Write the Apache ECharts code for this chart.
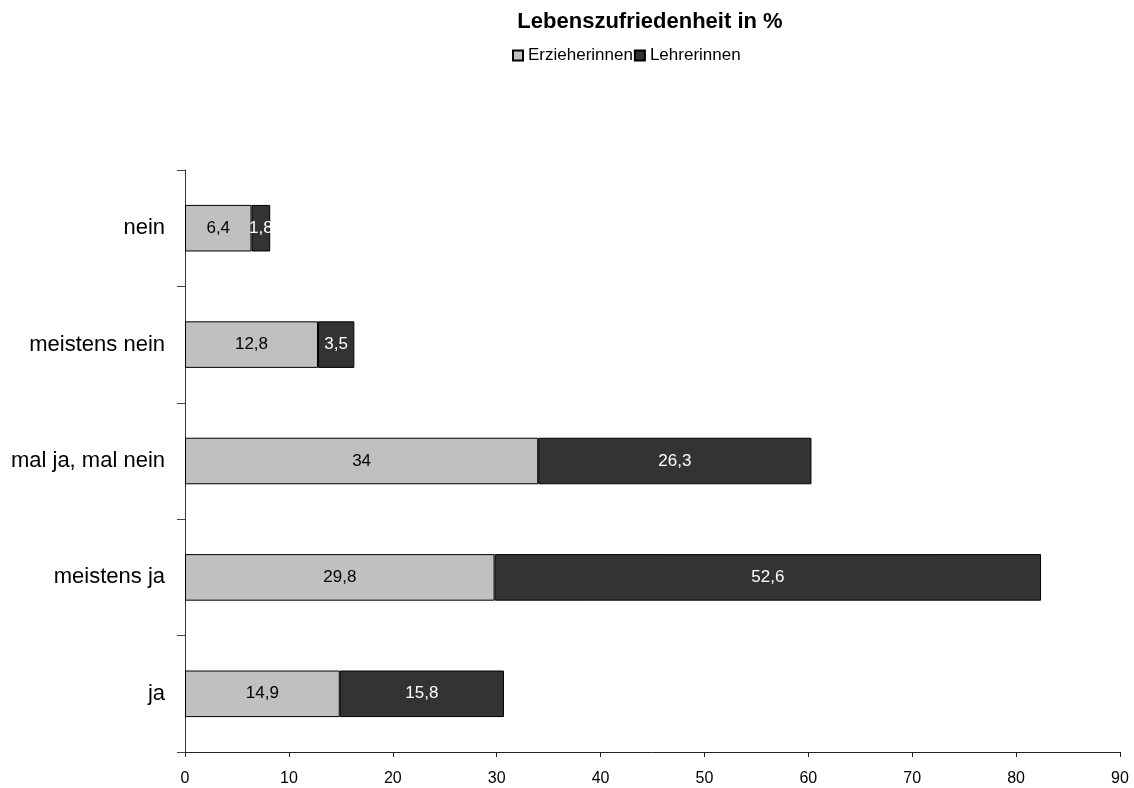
<!DOCTYPE html>
<html><head><meta charset="utf-8">
<script src="https://cdn.jsdelivr.net/npm/echarts@6/dist/echarts.min.js"></script>
<style>html,body{margin:0;padding:0;background:#fff}#c{width:1134px;height:788px}</style>
</head><body><div id="c"></div>
<script>
const categories = ['ja', 'meistens ja', 'mal ja, mal nein', 'meistens nein', 'nein'];
const erzieherinnen = [14.9, 29.8, 34, 12.8, 6.4];
const lehrerinnen = [15.8, 52.6, 26.3, 3.5, 1.8];
const xTicks = [0, 10, 20, 30, 40, 50, 60, 70, 80, 90];

const font = 'Liberation Sans, Arial, sans-serif';
const fmt = p => String(p.value).replace('.', ',');
const chart = echarts.init(document.getElementById('c'));
chart.setOption({
  animation: false,
  title: {
    text: 'Lebenszufriedenheit in %',
    left: 645, textAlign: 'center', top: 6,
    textStyle: {fontFamily: font, fontSize: 22, fontWeight: 'bold', color: '#000'}
  },
  legend: {
    left: 507, top: 42, padding: 5,
    icon: 'rect',
    itemWidth: 10, itemHeight: 10, itemGap: 1,
    textStyle: {fontFamily: font, fontSize: 17, color: '#000'},
    data: ['Erzieherinnen', 'Lehrerinnen']
  },
  grid: {left: 185, right: 14, top: 170, bottom: 36, containLabel: false},
  xAxis: {
    type: 'value', min: xTicks[0], max: xTicks[xTicks.length - 1], interval: 10,
    splitLine: {show: false},
    axisLine: {show: true, lineStyle: {color: '#222', width: 1}},
    axisTick: {show: true, length: 5, lineStyle: {color: '#222'}},
    axisLabel: {fontFamily: font, fontSize: 16, color: '#000', margin: 19}
  },
  yAxis: {
    type: 'category', data: categories,
    axisLine: {show: true, lineStyle: {color: '#333', width: 1}},
    axisTick: {show: true, length: 8, lineStyle: {color: '#444'}},
    axisLabel: {fontFamily: font, fontSize: 22, color: '#000', margin: 20}
  },
  series: [
    {
      name: 'Erzieherinnen', type: 'bar', stack: 's', data: erzieherinnen,
      barCategoryGap: '60%',
      itemStyle: {color: '#c0c0c0', borderColor: '#000', borderWidth: 1},
      label: {show: true, position: 'inside', formatter: fmt, fontFamily: font, fontSize: 17, color: '#000'}
    },
    {
      name: 'Lehrerinnen', type: 'bar', stack: 's', data: lehrerinnen,
      itemStyle: {color: '#333333', borderColor: '#000', borderWidth: 1},
      label: {show: true, position: 'inside', formatter: fmt, fontFamily: font, fontSize: 17, color: '#fff'}
    }
  ]
});
</script></body></html>
